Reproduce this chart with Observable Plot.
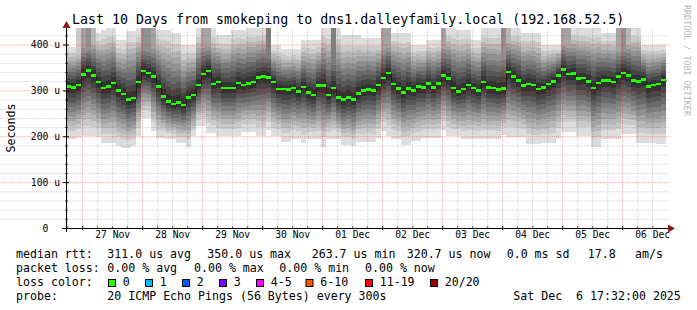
<!DOCTYPE html>
<html><head><meta charset="utf-8">
<script src="https://cdn.jsdelivr.net/npm/d3@7"></script>
<script src="https://cdn.jsdelivr.net/npm/@observablehq/plot@0.6"></script>
<style>
html,body{margin:0;padding:0;background:#fff;}
#chart svg{display:block;}
</style>
</head><body><div id="chart"></div>
<script>
// ---------- data ----------
const title = "Last 10 Days from smokeping to dns1.dalleyfamily.local (192.168.52.5)";
const yLabel = "Seconds";
const watermark = "RRDTOOL / TOBI OETIKER";
const endTime = "2025-12-06T17:32:00Z";
const spanDays = 10;
const stepHours = 2;
const yMax = 436;

// median RTT per 2-hour column (microseconds)
const median = [
 308,306,312,335,343,332,318,305,308,316,
 300,292,280,283,318,342,338,330,308,287,
 276,270,274,268,285,290,312,336,342,314,
 318,305,305,305,316,312,315,318,328,330,
 328,318,303,303,302,305,298,307,295,290,
 310,310,290,305,284,280,285,280,293,300,
 302,300,312,327,338,314,304,296,304,300,
 308,306,315,306,315,332,326,305,298,303,
 312,305,300,318,306,305,302,304,340,330,
 322,310,314,312,303,306,314,320,332,346,
 336,337,326,327,320,305,316,322,321,318,
 330,338,332,321,320,324,308,312,314,323];
// highest ping (top of smoke) per column
const smokeHigh = [
 395,395,400,436,436,436,425,432,436,436,
 410,410,430,430,436,436,436,436,432,432,
 432,425,425,400,400,400,436,436,436,436,
 420,420,420,432,432,432,436,436,436,436,
 436,400,400,390,390,390,390,410,410,410,
 410,436,436,436,436,420,420,420,420,414,
 414,414,414,436,436,425,425,425,425,400,
 400,400,410,410,410,436,436,436,432,432,
 432,410,410,436,436,436,436,436,436,436,
 436,425,425,425,425,400,400,400,400,436,
 436,436,436,436,436,436,436,425,425,425,
 425,436,436,436,436,400,400,400,400,400];
// lowest ping (bottom of smoke) per column
const smokeLow = [
 193,193,197,200,200,200,198,186,186,185,
 178,175,175,178,200,240,240,211,196,196,
 193,193,185,185,176,200,222,222,207,207,
 200,200,200,200,200,210,210,210,200,200,
 213,200,200,188,188,195,195,186,193,193,
 193,176,195,195,195,182,182,178,188,188,
 188,188,197,212,200,195,195,180,180,190,
 190,197,197,197,197,214,200,200,200,195,
 195,195,195,195,195,195,195,203,198,198,
 198,198,183,183,183,185,185,185,195,210,
 210,210,200,200,200,176,176,193,193,193,
 193,205,205,205,185,185,185,185,183,183];
// number of the highest pings that run off the top of the graph
const clippedHigh = [
 0,0,2,4,5,3,0,0,0,0,
 0,0,0,0,0,5,5,4,0,0,
 0,0,0,0,0,0,0,4,4,0,
 0,0,0,0,0,0,0,0,0,0,
 6,0,0,0,0,0,0,0,0,0,
 0,0,0,6,0,0,0,0,0,0,
 0,0,0,4,4,0,0,0,0,0,
 0,0,0,0,0,4,0,0,0,0,
 0,0,0,0,0,0,0,5,3,0,
 0,0,0,0,0,0,0,0,0,4,
 4,0,0,0,0,0,0,0,0,0,
 4,5,3,0,0,0,0,0,0,0];

const yTicks = [0, 100, 200, 300, 400];
const yTickLabels = ["0\u00a0\u00a0", "100 u", "200 u", "300 u", "400 u"];
const xTickLabels = ["27 Nov","28 Nov","29 Nov","30 Nov","01 Dec","02 Dec","03 Dec","04 Dec","05 Dec","06 Dec"];

const rttStats = ["311.0 us avg", "350.0 us max", "263.7 us min", "320.7 us now", "0.0 ms sd", "17.8", "am/s"];
const lossStats = ["0.00 % avg", "0.00 % max", "0.00 % min", "0.00 % now"];
const lossLabels = ["0", "1", "2", "3", "4-5", "6-10", "11-19", "20/20"];
const lossColors = ["#26ff00", "#00b8ff", "#0059ff", "#7e00ff", "#ff00ff", "#ff5500", "#ff0000", "#a10000"];
const probeText = "20 ICMP Echo Pings (56 Bytes) every 300s";
const stampText = "Sat Dec  6 17:32:00 2025";

// ---------- build ----------
const T1 = new Date(endTime);
const T0 = new Date(+T1 - spanDays * 864e5);
const step = stepHours * 3600e3;
const cols = median.map((m, k) => ({
  t0: new Date(+T0 + k * step), t1: new Date(+T0 + (k + 1) * step),
  med: m, hi: smokeHigh[k], lo: smokeLow[k], clip: clippedHigh[k]
}));
// smokeping grey levels for the 10 smoke layers (outer -> inner)
const grays = d3.range(1, 11).map(i => { const v = Math.floor(19 * (10 - i)) + 50; return d3.rgb(v, v, v).formatHex(); });
const bandShape = [1, 0.84, 0.74, 0.65, 0.56, 0.47, 0.38, 0.29, 0.2, 0.11];
const bands = [];
cols.forEach(c => bandShape.forEach((s, i) => {
  const up = i < c.clip ? yMax : c.med + (c.hi - c.med) * s;
  const dn = c.med - (c.med - c.lo) * s;
  bands.push({t0: c.t0, t1: c.t1, y1: dn, y2: Math.min(up, yMax), fill: grays[i]});
}));
const medLine = cols.map(c => ({t: c.t0, v: c.med})).concat([{t: T1, v: median[median.length - 1]}]);
const sw = yMax / 200 * 1.3;

const gridTimes = d3.utcHour.every(6).range(T0, T1);
const majorTimes = gridTimes.filter(t => t.getUTCHours() === 0);
const minorTimes = gridTimes.filter(t => t.getUTCHours() !== 0);
const labelTimes = majorTimes.map(t => new Date(+t + 12 * 3600e3));
const yMinor = d3.range(20, yMax, 20).filter(v => v % 100 !== 0);
const yMajor = d3.range(100, yMax, 100);
const px = (+T1 - +T0) / 600; // ms per pixel

const FONT = "'DejaVu Sans Mono', monospace";

const plot = Plot.plot({
  width: 697, height: 310,
  marginLeft: 66, marginRight: 31, marginTop: 28, marginBottom: 82,
  x: {type: "utc", domain: [T0, T1], axis: null},
  y: {domain: [0, yMax], axis: null},
  color: {type: "identity"},
  style: {background: "white", fontFamily: FONT, fontSize: "9.7px", color: "black", overflow: "visible"},
  marks: [
    Plot.rect(bands, {x1: "t0", x2: "t1", y1: "y1", y2: "y2", fill: "fill", shapeRendering: "crispEdges"}),
    Plot.ruleY(yMinor, {stroke: "#5f5f5f", strokeOpacity: 0.3, strokeDasharray: "1,1", x2: new Date(+T1 + 3 * px)}),
    Plot.ruleX(minorTimes, {stroke: "#5f5f5f", strokeOpacity: 0.3, strokeDasharray: "1,1"}),
    Plot.ruleY(yMajor, {stroke: "#ff0000", strokeOpacity: 0.35, strokeDasharray: "1,1", x2: new Date(+T1 + 3 * px)}),
    Plot.ruleX(majorTimes, {stroke: "#ff0000", strokeOpacity: 0.35, strokeDasharray: "1,1"}),
    Plot.line(medLine, {x: "t", y: "v", curve: "step-after", stroke: "#202020", strokeWidth: 1}),
    Plot.rect(cols, {x1: "t0", x2: "t1", y1: d => d.med - sw, y2: d => d.med + sw, fill: lossColors[0], shapeRendering: "crispEdges"}),
    // axes
    Plot.ruleY([0], {x1: new Date(+T0 - 4 * px), x2: new Date(+T1 + 4 * px), stroke: "black"}),
    Plot.ruleX([T0], {y1: -4 * yMax / 200, y2: yMax + 4 * yMax / 200, stroke: "black"}),
    Plot.ruleY(yTicks, {x1: new Date(+T0 - 3 * px), x2: new Date(+T0 + 3 * px), stroke: "black"}),
    Plot.ruleY(yMinor, {x1: new Date(+T0 - 1 * px), x2: new Date(+T0 + 2 * px), stroke: "black", strokeOpacity: 0.6}),
    Plot.ruleX(majorTimes, {y1: -2 * yMax / 200, y2: 2 * yMax / 200, stroke: "black"}),
    Plot.ruleX(minorTimes, {y1: 0, y2: 2 * yMax / 200, stroke: "black", strokeOpacity: 0.6}),
    Plot.text(yTicks, {y: d => d, text: (d, i) => yTickLabels[i], frameAnchor: "left", textAnchor: "end", dx: -6.5, fontSize: 9.7}),
    Plot.text(labelTimes, {x: d => d, text: (d, i) => xTickLabels[i], frameAnchor: "bottom", dy: 9.4, fontSize: 9.7})
  ]
});
document.getElementById("chart").appendChild(plot);

// ---------- title, labels, legend ----------
const svg = d3.select(plot);
const txt = (x, y, s, size, opts = {}) => {
  const t = svg.append("text").attr("x", x).attr("y", y).text(s)
    .attr("font-family", FONT).attr("font-size", size).attr("fill", opts.fill || "black")
    .attr("text-anchor", opts.anchor || "start")
    .style("white-space", "pre");
  if (opts.transform) t.attr("transform", opts.transform);
  return t;
};
// arrows
svg.append("path").attr("d", "M62.5,28 L66.5,21 L70.5,28 Z").attr("fill", "#8a1a1a");
svg.append("path").attr("d", "M668,224.5 L675,228.5 L668,232.5 Z").attr("fill", "#8a1a1a");

txt(72, 24, title, 13.3);
txt(0, 0, yLabel, 11.6, {anchor: "middle", transform: "translate(15,128) rotate(-90)"});
txt(0, 0, watermark, 8.4, {fill: "#b8b8b8", transform: "translate(684,5) rotate(90)"});

const LF = 11.6;
const rows = [258.3, 272.1, 285.9, 299.7];
txt(16, rows[0], "median rtt:", LF);
[107.3, 207.3, 311.7, 406.7, 506.7, 587.7, 635].forEach((x, i) => txt(x, rows[0], rttStats[i], LF));
txt(16, rows[1], "packet loss:", LF);
[107.3, 194, 279.3, 365].forEach((x, i) => txt(x, rows[1], lossStats[i], LF));
txt(16, rows[2], "loss color:", LF);
[108.5, 145.5, 182.5, 219.5, 256.5, 306, 365.5, 430.5].forEach((x, i) => {
  svg.append("rect").attr("x", x).attr("y", 279.5).attr("width", 7).attr("height", 7)
    .attr("fill", lossColors[i]).attr("stroke", "black").attr("stroke-width", 1);
  txt(x + 14.2, rows[2], lossLabels[i], LF);
});
txt(16, rows[3], "probe:", LF);
txt(107.3, rows[3], probeText, LF);
txt(513.3, rows[3], stampText, LF);
</script>
</body></html>
